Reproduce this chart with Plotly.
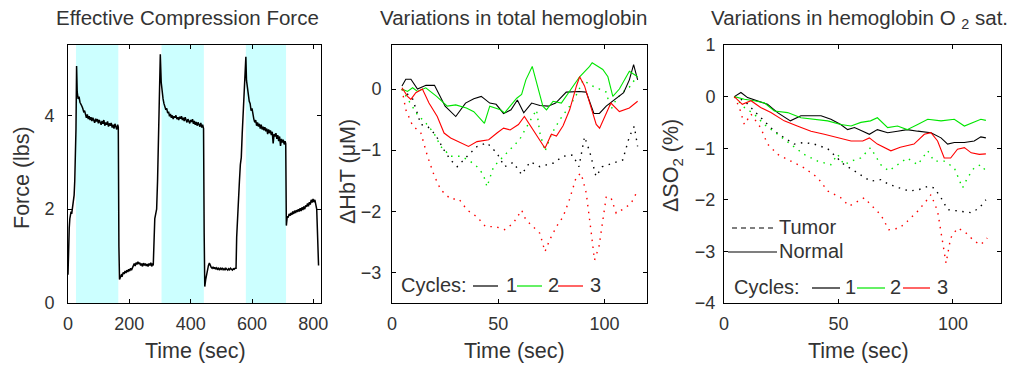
import plotly.graph_objects as go

# ---------------- data ----------------
force_time = [0, 2, 4, 6, 8, 10, 12, 14, 16, 18, 20, 22, 24, 26, 28,
              30, 33, 36, 39, 42, 45, 48, 51, 54, 57, 60, 63, 66, 69, 72, 75, 78, 81, 84, 87, 90, 93, 96, 99,
              102, 105, 108, 111, 114, 117, 120, 123, 126, 129, 132, 135, 138, 141, 144, 147, 150, 153, 156,
              159, 162, 164, 166, 168,
              171, 174, 177, 180, 183, 186, 189, 192, 195, 198, 201, 204, 207, 210, 213, 216, 219, 222, 225,
              228, 231, 234, 237, 240, 243, 246, 249, 252, 255, 258, 261, 264, 267, 270, 273, 276, 278,
              280, 283, 286, 289, 292, 295, 298, 301,
              304, 307, 310, 313, 316, 319, 322, 325, 328, 331, 334, 337, 340, 343, 346, 349, 352, 355, 358,
              361, 364, 367, 370, 373, 376, 379, 382, 385, 388, 391, 394, 397, 400, 403, 406, 409, 412, 415,
              418, 421, 424, 427, 430, 433, 436, 439, 442, 444, 446,
              449, 452, 455, 458, 461, 464, 467, 470, 473, 476, 479, 482, 485, 488, 491, 494, 497, 500, 503,
              506, 509, 512, 515, 518, 521, 524, 527, 530, 533, 536, 539, 542, 545, 548,
              550, 553, 556, 559, 562, 565, 568, 571, 574, 577, 580,
              582, 585, 588, 591, 594, 597, 600, 603, 606, 609, 612, 615, 618, 621, 624, 627, 630, 633, 636,
              639, 642, 645, 648, 651, 654, 657, 660, 663, 666, 669, 672, 675, 678, 681, 684, 687, 690, 693,
              696, 699, 702, 705, 708, 710, 712,
              715, 718, 721, 724, 727, 730, 733, 736, 739, 742, 745, 748, 751, 754, 757, 760, 763, 766, 769,
              772, 775, 778, 781, 784, 787, 790, 793, 796, 799, 802, 805, 808, 811, 814, 817]
force_lbs = [0.6, 1.3, 1.6, 1.8, 1.85, 1.95, 1.9, 2.0, 2.05, 2.1, 2.3, 2.6, 3.1, 3.7, 5.05,
             4.5, 4.35, 4.4, 4.28, 4.25, 4.2, 4.15, 4.08, 4.1, 4.0, 3.95, 4.02, 3.92, 3.98, 3.9, 3.96, 3.88,
             3.95, 3.9, 3.84, 3.93, 3.87, 3.92, 3.83,
             3.9, 3.86, 3.8, 3.88, 3.82, 3.9, 3.78, 3.85, 3.8, 3.87, 3.76, 3.83, 3.78, 3.84, 3.74, 3.8, 3.72,
             3.82, 3.75, 3.7, 3.8, 3.75, 1.2, 0.5,
             0.55, 0.6, 0.58, 0.65, 0.62, 0.68, 0.64, 0.7, 0.66, 0.72, 0.68, 0.74, 0.7, 0.76, 0.8, 0.84, 0.79,
             0.86, 0.82, 0.88, 0.83, 0.86, 0.8, 0.84, 0.78, 0.85, 0.8, 0.84, 0.79, 0.83, 0.78, 0.84, 0.8, 0.86,
             0.78, 0.84, 0.8,
             1.5, 1.8, 1.9, 2.0, 2.6, 3.4, 4.4, 5.3,
             4.7, 4.45, 4.35, 4.25, 4.2, 4.12, 4.15, 4.05, 4.08, 3.98, 4.03, 3.95, 4.0, 3.92, 3.98, 3.95, 4.0,
             3.92, 3.96, 3.9, 3.97, 3.93, 3.98, 3.9, 3.95, 3.88, 3.96, 3.92, 3.85, 3.92, 3.88, 3.83, 3.9, 3.86,
             3.92, 3.82, 3.88, 3.8, 3.86, 3.78, 3.85, 3.8, 3.76, 3.84, 3.74, 3.8, 3.72, 1.5, 0.35,
             0.5, 0.62, 0.7, 0.8, 0.85, 0.78, 0.76, 0.74, 0.77, 0.73, 0.76, 0.72, 0.75, 0.72, 0.74, 0.7, 0.74,
             0.72, 0.75, 0.71, 0.73, 0.7, 0.74, 0.72, 0.7, 0.73, 0.71, 0.74, 0.72, 0.7, 0.73, 0.72, 0.74, 0.74,
             1.4, 1.9, 2.2, 2.6, 2.95, 3.1, 3.6, 4.1, 4.6, 5.0, 5.25,
             4.75, 4.55, 4.45, 4.3, 4.25, 4.1, 4.15, 4.0, 3.92, 3.85, 3.9, 3.78, 3.85, 3.76, 3.82, 3.72, 3.8,
             3.7, 3.76, 3.68, 3.75, 3.66, 3.72, 3.6, 3.7, 3.62, 3.68, 3.58, 3.65, 3.4, 3.6, 3.55, 3.62, 3.5,
             3.58, 3.45, 3.55, 3.35, 3.5, 3.42, 3.48, 3.38, 3.45, 3.4, 1.65,
             1.85, 1.82, 1.9, 1.86, 1.92, 1.88, 1.95, 1.9, 1.97, 1.92, 1.98, 1.94, 2.0, 1.95, 2.02, 1.96, 2.04,
             1.98, 2.06, 2.0, 2.08, 2.05, 2.12, 2.06, 2.15, 2.1, 2.2, 2.14, 2.22, 2.15, 2.2, 2.12, 2.0, 1.4, 0.8]

compress_start = [26, 305, 580]
compress_end = [164, 443, 711]

hbt_n1_t = [4.7, 6.5, 8.9, 12, 16, 20, 25, 30, 34.6, 38.5, 42, 46, 49, 52.5, 56, 59, 62, 65.7, 69.6, 73.5,
            77, 82, 88, 91.4, 95, 97.6, 100.8, 105, 109, 111.7, 113.7, 115.6]
hbt_n1 = [0.05, 0.16, 0.16, 0, 0.06, 0.06, -0.28, -0.45, -0.23, -0.16, -0.12, -0.23, -0.25, -0.4, -0.34,
          -0.18, -0.39, -0.23, -0.27, -0.28, -0.23, -0.05, -0.04, -0.05, -0.4, -0.4, -0.28, -0.17, -0.06,
          0.15, 0.4, 0.15]
hbt_n2_t = [4.7, 7.3, 9.7, 12, 15.9, 21, 26, 30, 35, 38.5, 43.5, 46, 51, 53, 55.6, 58.7, 61, 63, 66, 68.5,
            71, 72.7, 75.8, 79.7, 83.6, 88.3, 93, 94.2, 99.2, 101.6, 103.9, 107, 111.7, 115.6]
hbt_n2 = [0, -0.04, 0.02, -0.04, 0.02, -0.12, -0.28, -0.26, -0.31, -0.37, -0.56, -0.28, -0.34, -0.39,
          -0.28, -0.15, -0.09, 0.15, 0.37, 0.05, -0.28, -0.34, -0.2, -0.23, -0.04, 0.2, 0.37, 0.43, 0.32,
          0.2, -0.12, 0, 0.29, 0.2]
hbt_n3_t = [4.7, 7.3, 8.9, 11.2, 14.3, 17.4, 21.3, 24.5, 27.6, 31.5, 36, 40, 45.5, 49.4, 52.5, 55.6, 59.5,
            62.3, 66.5, 69.6, 72, 75, 77.4, 80.5, 83.6, 86.8, 88.3, 90.6, 93.8, 96.1, 97.7, 100.8, 103, 107,
            111.7, 115.6]
hbt_n3 = [0.02, -0.12, -0.17, -0.06, 0, -0.23, -0.45, -0.72, -0.8, -0.86, -0.94, -0.86, -0.83, -0.72,
          -0.64, -0.67, -0.58, -0.45, -0.67, -0.83, -0.97, -0.74, -0.77, -0.6, -0.34, 0.05, 0.2, 0.05,
          -0.34, -0.58, -0.64, -0.39, -0.23, -0.37, -0.31, -0.2]
hbt_t1_t = [4.7, 9.7, 13.6, 16.7, 20.5, 24.5, 27.6, 30.7, 35.4, 40, 44.7, 49.4, 53, 57, 61, 65, 69.6, 76,
            80.5, 85, 88, 90.6, 93, 96, 99, 104, 108.6, 111.7, 114, 115.6]
hbt_t1 = [0, -0.16, -0.58, -0.61, -0.75, -1.0, -1.16, -1.27, -1.1, -0.94, -0.88, -1.05, -1.27, -1.2, -1.4,
          -1.19, -1.27, -1.21, -1.1, -1.08, -1.27, -0.78, -1.02, -1.43, -1.27, -1.21, -1.16, -0.78, -0.61,
          -0.94]
hbt_t2_t = [4.7, 7.3, 12, 16, 19.7, 23, 27.6, 32, 36, 40, 43, 44.7, 47.8, 52.5, 55.6, 60, 64, 68, 69.6, 72,
            75, 79, 83.6, 87.5, 90, 93, 97.6, 100.8, 103, 105.5, 108.6, 111.7, 115]
hbt_t2 = [0, -0.16, -0.42, -0.56, -0.72, -0.94, -1.1, -1.1, -1.16, -1.27, -1.4, -1.6, -1.27, -1.1, -1.0,
          -0.83, -0.58, -0.34, -0.72, -1.02, -0.74, -0.5, -0.28, -0.05, 0.15, 0.07, 0, -0.05, -0.34, -0.17,
          -0.05, 0.03, 0.19]
hbt_t3_t = [4.7, 6.5, 9.7, 13.6, 16.7, 20, 23, 27.6, 31.5, 35.4, 40, 44, 48.6, 53, 57, 61, 63, 66.5, 69.6,
            72, 74.3, 77.4, 80.5, 83.6, 86.8, 89, 91.4, 93.8, 95.3, 97.4, 99.2, 100.8, 103, 105.5, 109.5,
            112.5, 115]
hbt_t3 = [0, -0.34, -0.6, -0.72, -1.1, -1.43, -1.65, -1.8, -1.8, -1.98, -2.09, -2.25, -2.25, -2.3, -2.2,
          -1.98, -2.14, -2.25, -2.36, -2.66, -2.46, -2.25, -2.09, -1.8, -1.43, -1.38, -1.7, -2.36, -2.8,
          -2.58, -2.14, -1.77, -1.77, -2.03, -1.95, -1.87, -1.7]

so2_n1_t = [4.5, 7.4, 10.3, 14.7, 19, 23.4, 29, 33.6, 38, 42.4, 46.7, 51, 54, 57, 60.6, 63.5, 67, 71.5,
            75.8, 80, 84.6, 90.4, 94.8, 97.7, 100.6, 105, 109.3, 112.2, 114.4]
so2_n1 = [0, 0.08, -0.02, -0.08, -0.15, -0.31, -0.47, -0.37, -0.37, -0.37, -0.44, -0.54, -0.64, -0.6,
          -0.67, -0.73, -0.64, -0.7, -0.67, -0.64, -0.67, -0.7, -0.8, -0.92, -0.89, -0.89, -0.86, -0.78,
          -0.8]
so2_n2_t = [4.5, 8.9, 13.2, 17.6, 22, 27.8, 33.6, 39.4, 45.3, 51, 55.5, 59.8, 64, 67, 71.5, 75.8, 80, 84.6,
            89, 94.8, 100.6, 105, 109.3, 112.2, 114.4]
so2_n2 = [0, -0.05, -0.08, -0.12, -0.28, -0.31, -0.41, -0.44, -0.47, -0.54, -0.57, -0.5, -0.47, -0.41,
          -0.6, -0.57, -0.64, -0.54, -0.44, -0.47, -0.44, -0.57, -0.49, -0.44, -0.46]
so2_n3_t = [4.5, 8, 11.8, 16, 20.5, 26.3, 32, 38, 43.8, 49.6, 55.5, 60.6, 63.5, 67, 72.9, 77, 83, 87.5,
            90.4, 93.3, 96.2, 99, 102, 105, 108, 111.5, 114.4]
so2_n3 = [0, -0.15, -0.08, -0.21, -0.31, -0.47, -0.57, -0.67, -0.73, -0.8, -0.86, -0.86, -0.8, -0.92,
          -1.05, -0.98, -0.92, -0.73, -0.7, -0.86, -1.19, -1.19, -1.02, -0.99, -1.09, -1.12, -1.11]
so2_t1_t = [4.5, 8.9, 13.2, 17.6, 22, 26.3, 30.7, 35, 39.4, 45.3, 49.6, 52.5, 57, 60.6, 64, 68.5, 72, 76.6,
            81, 85.3, 89, 91.8, 94.8, 97.7, 102, 108, 111.5, 114.4]
so2_t1 = [0, -0.08, -0.28, -0.47, -0.67, -0.8, -0.92, -0.89, -0.92, -1.01, -1.19, -1.32, -1.44, -1.54,
          -1.64, -1.61, -1.7, -1.77, -1.83, -1.8, -1.74, -1.77, -1.96, -2.19, -2.22, -2.25, -2.16, -2.0]
so2_t2_t = [4.5, 8.9, 13.2, 17.6, 23.4, 29, 35, 40.9, 46.7, 49.6, 52.5, 55.5, 59.8, 64, 68.5, 72, 75.8, 80,
            84.6, 89, 91.8, 96.2, 100.6, 104.2, 106.4, 109.3, 112.2, 114.4]
so2_t2 = [0, -0.21, -0.34, -0.54, -0.73, -0.92, -1.12, -1.25, -1.32, -1.12, -1.32, -1.25, -1.19, -0.99,
          -1.32, -1.44, -1.32, -1.19, -1.32, -1.05, -1.25, -1.25, -1.38, -1.77, -1.57, -1.38, -1.32, -1.44]
so2_t3_t = [4.5, 6.7, 8.9, 11.8, 16, 19, 23.4, 29, 35, 40.9, 45.3, 51, 54.7, 58.4, 61.3, 64, 68.5, 72, 76.6,
            80, 84.6, 88.2, 90.4, 93.3, 95.5, 97, 99, 102, 105, 109.3, 112.2, 115]
so2_t3 = [0, -0.21, -0.54, -0.34, -0.6, -0.92, -1.12, -1.25, -1.38, -1.57, -1.83, -1.96, -2.12, -2.03,
          -1.96, -2.09, -2.29, -2.58, -2.55, -2.42, -2.22, -2.03, -1.9, -2.22, -2.87, -3.23, -2.74, -2.55,
          -2.61, -2.8, -2.87, -2.74]

cycle_labels = ["1", "2", "3"]
cycle_colors = ["#000000", "#00e600", "#ff0000"]

# ---------------- figure ----------------
W, H = 1013, 366
FONT = "Liberation Sans, Arial, sans-serif"
TXT = "#333333"


def px(x):
    return x / W


def py(y):
    return 1 - y / H


fig = go.Figure()

fig.add_trace(go.Scatter(x=force_time, y=force_lbs, mode="lines",
                         line=dict(color="black", width=1.5), xaxis="x", yaxis="y"))

DOT = "1.5px,5.5px"
for i, (tt, vv) in enumerate([(hbt_t1_t, hbt_t1), (hbt_t2_t, hbt_t2), (hbt_t3_t, hbt_t3)]):
    fig.add_trace(go.Scatter(x=tt, y=vv, mode="lines", xaxis="x2", yaxis="y2",
                             line=dict(color=cycle_colors[i], width=1.4, dash=DOT)))
for i, (tt, vv) in enumerate([(hbt_n1_t, hbt_n1), (hbt_n2_t, hbt_n2), (hbt_n3_t, hbt_n3)]):
    fig.add_trace(go.Scatter(x=tt, y=vv, mode="lines", xaxis="x2", yaxis="y2",
                             line=dict(color=cycle_colors[i], width=1.1)))
for i, (tt, vv) in enumerate([(so2_t1_t, so2_t1), (so2_t2_t, so2_t2), (so2_t3_t, so2_t3)]):
    fig.add_trace(go.Scatter(x=tt, y=vv, mode="lines", xaxis="x3", yaxis="y3",
                             line=dict(color=cycle_colors[i], width=1.4, dash=DOT)))
for i, (tt, vv) in enumerate([(so2_n1_t, so2_n1), (so2_n2_t, so2_n2), (so2_n3_t, so2_n3)]):
    fig.add_trace(go.Scatter(x=tt, y=vv, mode="lines", xaxis="x3", yaxis="y3",
                             line=dict(color=cycle_colors[i], width=1.1)))

shapes = []
for s, e in zip(compress_start, compress_end):
    shapes.append(dict(type="rect", xref="x", yref="y domain", x0=s, x1=e, y0=0, y1=1,
                       fillcolor="#ccffff", line=dict(width=0), layer="below"))

annotations = []


def text(x, y, s, size=20, anchor="left", angle=0):
    annotations.append(dict(x=px(x), y=py(y), xref="paper", yref="paper", text=s, showarrow=False,
                            xanchor=anchor, yanchor="middle", textangle=angle,
                            font=dict(family=FONT, size=size, color=TXT)))


def seg(x0, x1, y, color, dash="solid"):
    shapes.append(dict(type="line", xref="paper", yref="paper", x0=px(x0), x1=px(x1), y0=py(y), y1=py(y),
                       line=dict(color=color, width=1.2, dash=dash)))


# titles
text(187, 17, "Effective Compression Force", 20.5, "center")
text(513, 17, "Variations in total hemoglobin", 20.5, "center")
text(859, 19, "Variations in hemoglobin O <sub>2</sub> sat.", 20.5, "center")
# axis titles
for cx in (195, 514, 858):
    text(cx, 351, "Time (sec)", 21.5, "center")
text(22, 178, "Force (lbs)", 21.5, "center", -90)
text(348, 172, "ΔHbT (μM)", 21.5, "center", -90)
text(672, 166, "ΔSO<sub>2</sub> (%)", 21.5, "center", -90)

# legend panel 2
text(399, 285, "Cycles:", 20)
leg2 = [(473, 498, 504), (517, 542, 546), (558, 583, 588)]
for i, (a, b, t) in enumerate(leg2):
    seg(a, b, 286, cycle_colors[i])
    text(t, 285, cycle_labels[i], 20)
# legend panel 3
text(732, 287, "Cycles:", 20)
leg3 = [(812, 840, 843), (857, 885, 888), (903, 930, 935)]
for i, (a, b, t) in enumerate(leg3):
    seg(a, b, 288, cycle_colors[i])
    text(t, 287, cycle_labels[i], 20)
seg(732, 775, 228, "black", "5px,4px")
text(777, 227, "Tumor", 20)
seg(728, 777, 252, "black")
text(777, 251, "Normal", 20)

ax_common = dict(showgrid=False, zeroline=False, showline=True, linecolor="black", linewidth=1,
                 mirror="allticks", ticks="inside", ticklen=4, tickcolor="black", tickwidth=1,
                 automargin=False, tickfont=dict(family=FONT, size=18, color=TXT))
ydom = [py(303), py(45)]

fig.update_layout(
    template="none",
    width=W, height=H, margin=dict(l=0, r=0, t=0, b=0, pad=0, autoexpand=False),
    paper_bgcolor="white", plot_bgcolor="white", showlegend=False,
    shapes=shapes, annotations=annotations,
    xaxis=dict(domain=[px(68), px(321)], range=[0, 825], tickvals=[0, 200, 400, 600, 800],
               anchor="y", ticklabelstandoff=4, **ax_common),
    yaxis=dict(domain=ydom, range=[0, 5.5], tickvals=[0, 2, 4], anchor="x",
               ticklabelstandoff=9, **ax_common),
    xaxis2=dict(domain=[px(392), px(647)], range=[0, 120], tickvals=[0, 50, 100], anchor="y2",
                ticklabelstandoff=4, **ax_common),
    yaxis2=dict(domain=ydom, range=[-3.5, 0.72], tickvals=[-3, -2, -1, 0], anchor="x2",
                ticklabelstandoff=6, **ax_common),
    xaxis3=dict(domain=[px(724), px(1001)], range=[0, 121], tickvals=[0, 50, 100], anchor="y3",
                ticklabelstandoff=4, **ax_common),
    yaxis3=dict(domain=ydom, range=[-4, 1], tickvals=[-4, -3, -2, -1, 0, 1], anchor="x3",
                ticklabelstandoff=4, **ax_common),
)

fig.write_html("out.html")
